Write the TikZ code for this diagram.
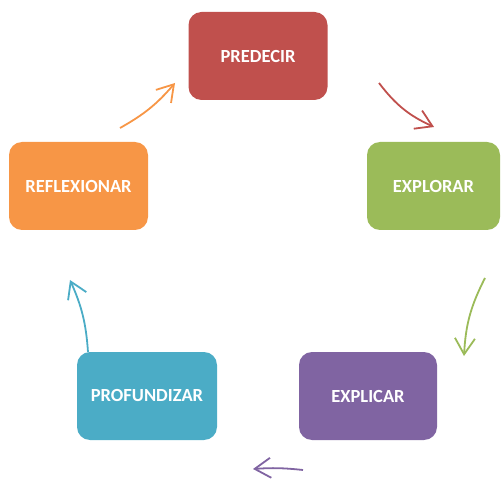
\documentclass[tikz,border=0pt]{standalone}
\usepackage{fontspec}
\setmainfont{Carlito}
\usetikzlibrary{arrows.meta}
\definecolor{cred}{HTML}{C0504D}
\definecolor{cgreen}{HTML}{9BBB59}
\definecolor{cpurple}{HTML}{8064A2}
\definecolor{cteal}{HTML}{4BACC6}
\definecolor{corange}{HTML}{F79646}
\tikzset{
  stepbox/.style={rectangle, rounded corners=13pt, minimum width=139pt, minimum height=88pt,
    inner sep=0pt, text=white, font=\fontsize{18.5}{21}\selectfont\bfseries},
  cyc/.style={line width=1.8pt, -{Straight Barb[length=16pt,width=20pt,line width=1.8pt]}},
}
\begin{document}
\begin{tikzpicture}[x=1pt,y=-1pt]
\useasboundingbox (0,0) rectangle (501,481);
\node[stepbox, fill=cred] (pre) at (258,56) {PREDECIR};
\node[stepbox, fill=cgreen, minimum width=133pt] (exp) at (433.5,186) {EXPLORAR};
\node[stepbox, fill=cpurple, minimum width=138pt] (expl) at (368,396) {EXPLICAR};
\node[stepbox, fill=cteal, minimum width=140pt] (pro) at (147,396) {PROFUNDIZAR};
\node[stepbox, fill=corange] (ref) at (78.5,186) {REFLEXIONAR};
\coordinate (a1s) at (379,83);  \coordinate (a1e) at (434,127);
\coordinate (a2s) at (485,278); \coordinate (a2e) at (464,356);
\coordinate (a3s) at (303,470); \coordinate (a3e) at (253,469);
\coordinate (a4s) at (88,352);  \coordinate (a4e) at (70,280);
\coordinate (a5s) at (120,128); \coordinate (a5e) at (175,83);
\draw[cyc, cred] (a1s) to[bend right=14] (a1e);
\draw[cyc, cgreen] (a2s) to[bend right=12] (a2e);
\draw[cyc, cpurple] (a3s) to[bend right=5] (a3e);
\draw[cyc, cteal] (a4s) to[bend right=10] (a4e);
\draw[cyc, corange] (a5s) to[bend right=10] (a5e);
\end{tikzpicture}
\end{document}
